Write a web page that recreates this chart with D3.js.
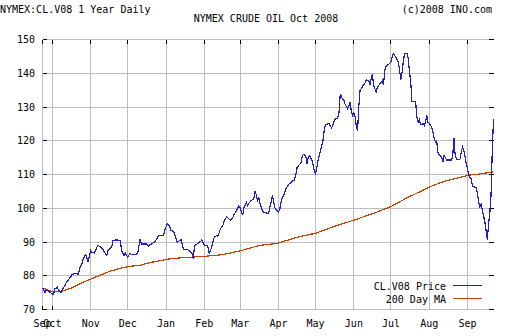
<!DOCTYPE html>
<html><head><meta charset="utf-8">
<script src="https://cdn.jsdelivr.net/npm/d3@7"></script>
<style>
body{margin:0;background:#fff}
text{font-family:"DejaVu Sans Mono",monospace;font-size:10px;fill:#000}
</style>
</head><body><svg id="c" width="512" height="336"></svg>
<script>
// Data: days since 2007-09-23 and settle prices (USD/bbl)
const startDate = "2007-09-23";
const endDate = "2008-09-22";
const priceDay = [0,2,3,5,6,9,10,12,13,15,16,18,19,21,23,24,26,27,29,30,32,33,35,37,38,39,40,42,44,45,47,49,50,52,53,56,57,59,61,63,64,66,67,69,71,72,74,77,79,80,82,84,86,87,90,92,94,98,99,101,103,104,106,107,109,111,112,113,114,116,118,119,121,122,123,125,126,128,129,131,133,134,135,136,138,139,141,142,144,146,147,149,150,152,154,155,157,159,160,162,163,165,166,167,169,171,172,173,174,175,176,178,179,181,182,183,185,186,187,188,190,191,192,193,194,196,197,199,201,202,204,205,206,208,209,210,211,213,214,215,216,218,219,220,221,223,225,227,228,229,231,232,234,236,237,239,240,241,242,244,245,247,248,249,250,251,252,253,254,255,256,257,259,261,262,264,265,266,267,268,270,271,273,275,276,277,278,280,282,283,284,286,288,289,290,291,292,293,295,296,297,298,299,301,302,303,304,305,306,308,309,310,311,312,313,315,316,317,318,319,320,321,323,324,325,326,327,331,332,333,334,335,337,338,339,340,341,342,343,344,345,347,348,351,352,353,354,355,356,358,359,360,361,362,363,364,365];
const priceVal = [76.5,75.1,75.8,75.4,75.1,74.4,76.1,76.6,75.7,75.0,76.0,77.0,77.8,78.8,79.8,80.4,80.6,80.8,80.4,82.1,83.7,85.0,86.3,84.0,86.0,87.5,87.0,86.7,88.5,89.0,88.5,87.7,87.0,86.0,87.5,88.5,90.4,90.6,90.6,90.4,87.5,86.0,86.7,85.5,86.7,86.3,86.3,86.5,90.8,89.4,89.4,89.4,88.7,89.2,89.8,90.6,91.9,91.9,93.6,95.4,94.6,93.4,93.2,92.2,89.9,90.4,90.8,89.4,87.8,87.8,87.6,87.4,86.6,85.1,88.9,89.4,89.6,90.2,90.6,89.1,89.0,88.4,86.6,87.4,90.2,91.4,91.9,91.7,93.9,94.9,96.2,97.4,97.2,96.4,97.2,98.1,99.3,100.7,100.1,97.9,100.1,101.8,100.8,101.5,102.3,102.8,105.0,104.0,102.3,103.1,101.5,99.3,98.9,98.6,98.4,98.6,101.8,103.5,102.3,100.1,99.3,98.9,99.6,101.8,103.1,104.5,105.8,107.0,107.6,108.0,108.4,110.0,112.0,113.0,113.2,115.1,115.9,115.6,113.2,115.1,115.6,114.4,112.8,111.0,110.2,114.1,117.1,120.1,123.2,124.6,125.0,125.0,123.8,125.8,126.4,126.8,128.5,133.9,132.9,131.9,130.7,129.5,130.4,131.4,128.5,127.5,128.2,127.2,124.2,123.0,130.1,134.9,136.1,137.1,138.1,137.8,136.5,138.4,139.6,136.5,134.4,135.8,136.8,137.8,136.5,141.0,142.0,142.6,143.3,145.0,145.8,144.8,143.3,140.8,138.1,140.3,143.6,145.8,145.8,144.3,140.6,137.4,131.7,131.7,131.4,127.0,125.5,126.2,124.8,125.0,124.5,125.5,127.5,125.5,125.2,124.0,122.5,120.6,119.6,119.9,116.6,115.9,115.1,113.6,115.6,115.0,114.3,114.3,115.6,120.9,115.6,114.6,114.3,114.6,116.9,118.1,117.1,115.1,113.1,111.7,109.7,108.7,106.4,106.2,104.5,101.8,100.3,101.3,99.5,95.9,93.4,90.6,95.4,98.4,103.8,117.1,126.3];
const maDay = [0,7,15,23,31,39,47,55,63,71,79,87,101,112,128,136,144,152,161,176,190,206,221,236,253,268,282,295,306,314,325,336,345,355,365];
const maVal = [76.4,75.4,75.3,76.3,77.8,79.0,80.2,81.4,82.2,82.8,83.1,83.9,84.9,85.3,85.7,85.9,86.2,86.7,87.5,89.0,89.6,91.4,92.6,94.6,96.6,98.5,100.5,103.1,105.0,106.4,108.0,109.0,109.8,110.2,110.8];
const yTicks = [70,80,90,100,110,120,130,140,150];
const monthLabels = ["Sep","Oct","Nov","Dec","Jan","Feb","Mar","Apr","May","Jun","Jul","Aug","Sep"];
const seriesNames = ["CL.V08 Price","200 Day MA"];
const seriesColors = ["#2020c8","#c84000"];

const svg = d3.select("#c");
const t0 = d3.timeParse("%Y-%m-%d")(startDate);
const t1 = d3.timeParse("%Y-%m-%d")(endDate);
const x = d3.scaleTime().domain([t0, t1]).range([42.5, 493.5]);
const y = d3.scaleLinear().domain([70, 150]).range([309.5, 39.5]);
const X0 = 42.5, X1 = 494;
const toDate = d => d3.timeDay.offset(t0, d);

const months = d3.timeMonth.range(d3.timeMonth.ceil(t0), t1);
const xTickDates = [t0].concat(months);

// grid
const g = svg.append("g").attr("stroke", "#bdbdbd").attr("stroke-width", 1).attr("shape-rendering", "crispEdges");
xTickDates.forEach(d => {
  const px = Math.round(x(d) - 0.5) + 0.5;
  g.append("line").attr("x1", px).attr("x2", px).attr("y1", y(150)).attr("y2", y(70));
});
yTicks.forEach(v => {
  g.append("line").attr("x1", X0).attr("x2", X1).attr("y1", y(v)).attr("y2", y(v));
});

// ticks
const tk = svg.append("g").attr("stroke", "#000").attr("stroke-width", 1).attr("shape-rendering", "crispEdges");
xTickDates.forEach(d => {
  const px = Math.round(x(d) - 0.5) + 0.5;
  tk.append("line").attr("x1", px).attr("x2", px).attr("y1", y(150)).attr("y2", y(150) + 4);
});
xTickDates.slice(0, 2).forEach(d => {
  const px = Math.round(x(d) - 0.5) + 0.5;
  tk.append("line").attr("x1", px).attr("x2", px).attr("y1", y(70)).attr("y2", y(70) - 4);
});
yTicks.forEach(v => {
  tk.append("line").attr("x1", X1 - 5).attr("x2", X1).attr("y1", y(v)).attr("y2", y(v));
  tk.append("line").attr("x1", X0).attr("x2", X0 + 4).attr("y1", y(v)).attr("y2", y(v));
});

// y labels
svg.append("g").selectAll("text").data(yTicks).join("text")
  .attr("x", 35).attr("y", v => y(v) + 3.5).attr("text-anchor", "end").text(v => v);

// x labels
svg.append("g").selectAll("text").data(xTickDates).join("text")
  .attr("x", d => x(d)).attr("y", 327).attr("text-anchor", "middle")
  .text((d, i) => monthLabels[i]);

// lines
const line = d3.line().x(d => x(toDate(d[0]))).y(d => y(d[1]));
svg.append("path").datum(maDay.map((d, i) => [d, maVal[i]]))
  .attr("d", line).attr("fill", "none").attr("stroke", seriesColors[1]).attr("stroke-width", 1.2)
  .attr("shape-rendering", "crispEdges");
svg.append("path").datum(priceDay.map((d, i) => [d, priceVal[i]]))
  .attr("d", line).attr("fill", "none").attr("stroke", seriesColors[0]).attr("stroke-width", 1.2)
  .attr("shape-rendering", "crispEdges");

// legend
const lg = svg.append("g");
seriesNames.forEach((n, i) => {
  const ly = 285.5 + i * 13;
  lg.append("text").attr("x", 446).attr("y", ly + 4).attr("text-anchor", "end").text(n);
  lg.append("line").attr("x1", 453).attr("x2", 482).attr("y1", ly).attr("y2", ly)
    .attr("stroke", seriesColors[i]).attr("stroke-width", 1).attr("shape-rendering", "crispEdges");
});

// titles
svg.append("text").attr("x", 0).attr("y", 13).text("NYMEX:CL.V08 1 Year Daily");
svg.append("text").attr("x", 492).attr("y", 13).attr("text-anchor", "end").text("(c)2008 INO.com");
svg.append("text").attr("x", 266).attr("y", 22).attr("text-anchor", "middle").text("NYMEX CRUDE OIL Oct 2008");
</script>
</body></html>
